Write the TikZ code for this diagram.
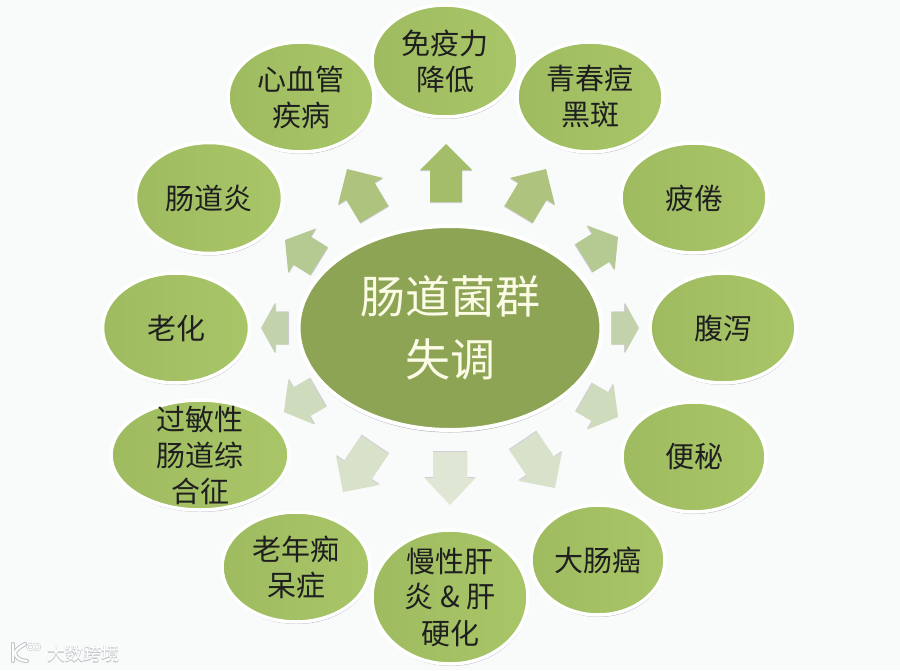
\documentclass[tikz,border=0pt]{standalone}
\usepackage{fontspec}
\setmainfont{Noto Sans CJK SC}
\newfontfamily\markfont[FakeBold=2.5]{Noto Sans CJK SC}
\usetikzlibrary{shapes.geometric,shadows}
\definecolor{rimshadow}{HTML}{B0ADBE}
\definecolor{hubgreen}{HTML}{8CA454}
\definecolor{hubtext}{HTML}{FBFBE6}
\definecolor{spokeL}{HTML}{9FBB60}
\definecolor{spokeR}{HTML}{A8C668}
\definecolor{paper}{HTML}{F9FAFA}
\definecolor{arrA}{HTML}{A3BD68}
\definecolor{arrB}{HTML}{ADC37E}
\definecolor{arrC}{HTML}{B5CA93}
\definecolor{arrD}{HTML}{C2D2AC}
\definecolor{arrE}{HTML}{CEDBBC}
\definecolor{arrF}{HTML}{D8E2CA}
\definecolor{arrG}{HTML}{DFE7D4}
\definecolor{markgrey}{HTML}{BFC3C7}
\tikzset{
  spoke/.style={ellipse,draw=white,line width=3.5pt,inner sep=0pt,outer sep=0pt,align=center,
    left color=spokeL,right color=spokeR,
    font=\fontsize{29}{36}\selectfont,text=black!88,
    general shadow={fill=rimshadow,shadow xshift=0.6pt,shadow yshift=-2pt}},
  hub/.style={ellipse,draw=white,line width=4pt,inner sep=0pt,align=center,fill=hubgreen,
    font=\fontsize{45}{63}\selectfont,text=hubtext,
    general shadow={fill=rimshadow,shadow xshift=0pt,shadow yshift=-2.5pt}},
  blockarrow/.style={line join=round},
  markword/.style={font=\fontsize{18}{18}\selectfont,inner sep=0pt}
}
% tip x, tip y, bearing, length, head length, head width, shaft width, colour
\newcommand{\blockarr}[8]{%
  \begin{scope}[shift={(#1pt,-#2pt)},rotate=-#3,x=1pt,y=1pt]
    \fill[rimshadow!60] (0,-1) -- (#6/2,-#5-1) -- (#7/2,-#5-1) -- (#7/2,-#4-1) -- (-#7/2,-#4-1) -- (-#7/2,-#5-1) -- (-#6/2,-#5-1) -- cycle;
    \fill[blockarrow,#8] (0,0) -- (#6/2,-#5) -- (#7/2,-#5) -- (#7/2,-#4) -- (-#7/2,-#4) -- (-#7/2,-#5) -- (-#6/2,-#5) -- cycle;
  \end{scope}}
\begin{document}
\begin{tikzpicture}[x=1pt,y=-1pt]
\useasboundingbox (0,0) rectangle (900,670);
\fill[paper] (0,0) rectangle (900,670);

% block arrows
\blockarr{446}{144}{0}{58}{26}{52}{32}{arrA}
\blockarr{546}{169}{31}{53}{26}{52}{33}{arrB}
\blockarr{347}{169}{-31}{53}{26}{52}{33}{arrB}
\blockarr{618}{237}{58}{40}{20}{52}{33}{arrC}
\blockarr{285}{240}{-58}{40}{20}{52}{33}{arrC}
\blockarr{639}{328}{90}{27}{14}{50}{33}{arrD}
\blockarr{261}{328}{-90}{27}{14}{50}{33}{arrD}
\blockarr{618}{417}{120}{39}{20}{52}{33}{arrE}
\blockarr{284}{412}{-120}{39}{20}{52}{33}{arrE}
\blockarr{555}{488}{146}{57}{26}{52}{33}{arrF}
\blockarr{343}{492}{-146}{57}{26}{52}{33}{arrF}
\blockarr{450}{505}{180}{53}{27}{51}{34}{arrG}

% hub
\node[hub,minimum width=303pt,minimum height=204pt] (hubnode) at (450,328) {肠道菌群\\失调};

% spokes
\node[spoke,minimum width=146pt,minimum height=112pt] (n1)  at (445,61)  {免疫力\\降低};
\node[spoke,minimum width=146pt,minimum height=110pt] (n2)  at (590,97)  {青春痘\\黑斑};
\node[spoke,minimum width=146pt,minimum height=110pt] (n3)  at (694,198) {疲倦};
\node[spoke,minimum width=146pt,minimum height=110pt] (n4)  at (723,328) {腹泻};
\node[spoke,minimum width=144pt,minimum height=110pt] (n5)  at (694,457) {便秘};
\node[spoke,minimum width=134pt,minimum height=110pt] (n6)  at (598,560) {大肠癌};
\node[spoke,minimum width=156pt,minimum height=134pt,inner sep=-12pt] (n7)  at (450,597) {慢性肝\\炎 \& 肝\\硬化};
\node[spoke,minimum width=148pt,minimum height=110pt] (n8)  at (296,567) {老年痴\\呆症};
\node[spoke,minimum width=178pt,minimum height=110pt,inner sep=-20pt] (n9)  at (200,455) {过敏性\\肠道综\\合征};
\node[spoke,minimum width=147pt,minimum height=110pt] (n10) at (176,328) {老化};
\node[spoke,minimum width=147pt,minimum height=111pt] (n11) at (209,198) {肠道炎};
\node[spoke,minimum width=146pt,minimum height=110pt] (n12) at (301,97)  {心血管\\疾病};

% watermark
\node[markword,text=markgrey] (markb) at (83,654) {\markfont 大数跨境};
\node[markword,text=white] (markt) at (83,654) {大数跨境};
\foreach \lw/\c in {4.2/markgrey,2.2/white}{
  \draw[\c,line width=\lw pt,line cap=round,line join=round] (13,644) -- (13,661);
  \draw[\c,line width=\lw pt,line cap=round,line join=round] (25,644) .. controls (18,648) and (15,651) .. (15,653) .. controls (15,657) and (20,661) .. (27,661);
  \draw[\c,line width=\lw pt*0.5] (30.5,647) circle (3) (37,647) circle (3);
}
\end{tikzpicture}
\end{document}
